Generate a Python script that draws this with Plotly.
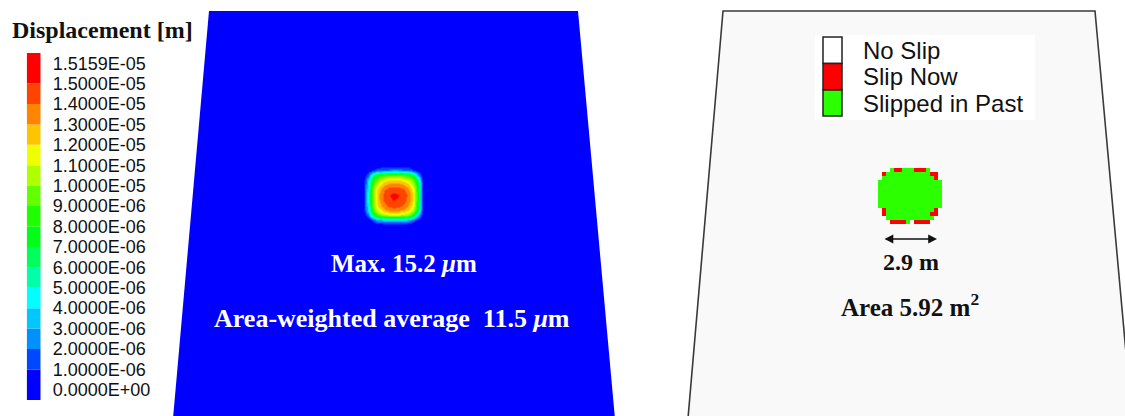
import plotly.graph_objects as go

# ---------------- data ----------------
# Displacement legend: band edges (micrometres), tick text and band colours, bottom to top
LEVELS_UM = [0, 1, 2, 3, 4, 5, 6, 7, 8, 9, 10, 11, 12, 13, 14, 15, 15.159]
LEVEL_LABELS = [
    "0.0000E+00", "1.0000E-06", "2.0000E-06", "3.0000E-06", "4.0000E-06",
    "5.0000E-06", "6.0000E-06", "7.0000E-06", "8.0000E-06", "9.0000E-06",
    "1.0000E-05", "1.1000E-05", "1.2000E-05", "1.3000E-05", "1.4000E-05",
    "1.5000E-05", "1.5159E-05",
]
BAND_COLORS = [
    "#0000ff", "#0048ff", "#0090ff", "#00c8ff", "#00ffff", "#00ffa8",
    "#00ff5a", "#00ff18", "#20ff00", "#62ff00", "#b0ff00", "#eeff00",
    "#ffc400", "#ff8400", "#ff4400", "#ff0000",
]

# Displacement field around the slip patch (micrometres), rows top to bottom
DISP_UM = [
    [0, 0.0, 0.0, 0.0, 0.0, 0.0, 0.0, 0.0, 0.0, 0.0, 0.0, 0.0, 0],
    [0, 0.2, 0.9, 1.9, 2.1, 2.2, 2.3, 2.3, 2.2, 2.1, 1.1, 0.3, 0],
    [0, 1.6, 6.0, 7.9, 8.7, 9.3, 9.4, 9.4, 9.1, 8.6, 7.0, 2.8, 0],
    [0, 3.6, 8.2, 10.2, 11.3, 11.9, 12.1, 12.1, 11.7, 11.0, 9.6, 6.3, 0],
    [0, 4.1, 9.3, 11.5, 12.7, 13.4, 13.6, 13.6, 13.2, 12.4, 10.8, 7.1, 0],
    [0, 4.4, 10.1, 12.4, 13.7, 14.6, 14.8, 14.7, 14.3, 13.5, 11.7, 7.7, 0],
    [0, 4.5, 10.3, 12.7, 14.1, 14.93, 15.159, 15.08, 14.6, 13.8, 12.0, 7.9, 0],
    [0, 4.5, 10.2, 12.6, 14.0, 14.8, 15.01, 14.93, 14.5, 13.7, 11.9, 7.8, 0],
    [0, 4.4, 9.9, 12.2, 13.5, 14.3, 14.6, 14.5, 14.0, 13.2, 11.5, 7.6, 0],
    [0, 4.0, 9.2, 11.3, 12.5, 13.3, 13.5, 13.4, 13.0, 12.3, 10.7, 7.0, 0],
    [0, 1.8, 7.0, 9.2, 10.2, 10.8, 10.9, 10.9, 10.5, 9.9, 8.2, 3.2, 0],
    [0, 0.3, 1.4, 3.1, 3.4, 3.6, 3.6, 3.6, 3.5, 3.3, 1.6, 0.5, 0],
    [0, 0.0, 0.0, 0.0, 0.0, 0.0, 0.0, 0.0, 0.0, 0.0, 0.0, 0.0, 0],
]

# Contact status per element: "." no slip, "R" slip now, "G" slipped in past
STATUS_ROWS = [
    "...GRRGGGRRRG...",
    ".RGGGGGGGGGGGRR.",
    ".GGGGGGGGGGGGGR.",
    "GGGGGGGGGGGGGGGG",
    "GGGGGGGGGGGGGGGG",
    "GGGGGGGGGGGGGGGG",
    "GGGGGGGGGGGGGGGG",
    "GGGGGGGGGGGGGGGG",
    "GGGGGGGGGGGGGGGG",
    "GGGGGGGGGGGGGGGG",
    ".RGGGGGGGGGGGGR.",
    ".RGGGGGGGGGGGRR.",
    "..GGGGGGGGGGGG..",
    "...RRRRG.RRRR...",
]
STATUS_NAMES = ["No Slip", "Slip Now", "Slipped in Past"]
STATUS_COLORS = ["#ffffff", "#ff0000", "#2bff00"]

MAX_DISP_UM = 15.2
AVG_DISP_UM = 11.5
PATCH_WIDTH_M = 2.9
PATCH_AREA_M2 = 5.92

# ---------------- layout constants (pixel frame) ----------------
W, H = 1125, 416
SERIF = "Liberation Serif"
SANS = "Liberation Sans"

# stepped colour scale built from the legend bands
zmax = LEVELS_UM[-1]
colorscale = []
for i, c in enumerate(BAND_COLORS):
    colorscale.append([LEVELS_UM[i] / zmax, c])
    colorscale.append([LEVELS_UM[i + 1] / zmax, c])

fig = go.Figure()

# displacement contour on the left fault face
fig.add_trace(go.Heatmap(
    z=DISP_UM, x0=363, dx=5, y0=165, dy=5,
    zmin=0, zmax=zmax, colorscale=colorscale, zsmooth="best",
    showscale=False, hoverinfo="skip",
))

# contact status on the right fault face
status_code = {".": None, "R": 1, "G": 2}
status_z = [[status_code[ch] for ch in row] for row in STATUS_ROWS]
fig.add_trace(go.Heatmap(
    z=status_z, x0=880, dx=4, y0=170, dy=4,
    zmin=0, zmax=2,
    colorscale=[[0, STATUS_COLORS[0]], [0.33, STATUS_COLORS[0]],
                [0.34, STATUS_COLORS[1]], [0.66, STATUS_COLORS[1]],
                [0.67, STATUS_COLORS[2]], [1, STATUS_COLORS[2]]],
    showscale=False, hoverinfo="skip",
))

# legend colour bar: one bar segment per band
idx = list(range(len(LEVELS_UM)))
bases, heights = [], []
for i in range(len(BAND_COLORS)):
    lo = idx[i] - (0.5 if i == 0 else 0)
    hi = idx[i + 1] + (0.5 if i == len(BAND_COLORS) - 1 else 0)
    bases.append(lo)
    heights.append(hi - lo)
fig.add_trace(go.Bar(
    x=[0] * len(BAND_COLORS), y=heights, base=bases, width=1,
    marker=dict(color=BAND_COLORS, line_width=0),
    xaxis="x2", yaxis="y2", hoverinfo="skip", showlegend=False,
))

shapes = [
    # left fault face (blue)
    dict(type="path", path="M 209 11 L 578 11 L 616 430 L 172 430 Z",
         fillcolor="#0000ff", line_width=0, layer="below"),
    # right fault face (light grey with outline)
    dict(type="path", path="M 723 11 L 1095 11 L 1133 430 L 687 430 Z",
         fillcolor="#f9f9f9", line=dict(color="#3a3a3a", width=1.6), layer="below"),
    # status legend box
    dict(type="rect", x0=815, x1=1035, y0=35, y1=120,
         fillcolor="#ffffff", line_width=0),
]
sw_top = [37, 63.5, 90]
sw_bot = [63.5, 90, 116]
for name, col, t, b in zip(STATUS_NAMES, STATUS_COLORS, sw_top, sw_bot):
    shapes.append(dict(type="rect", x0=823, x1=842, y0=t, y1=b,
                       fillcolor=col, line=dict(color="#222222", width=1.5)))

annotations = [
    dict(x=10, y=30, text="<b>Displacement [m]</b>", showarrow=False,
         xanchor="left", yanchor="middle", font=dict(family=SERIF, size=24, color="#111111")),
    dict(x=404, y=263, text=f"<b>Max. {MAX_DISP_UM} <i>μ</i>m</b>", showarrow=False,
         xanchor="center", yanchor="middle", font=dict(family=SERIF, size=25, color="#ffffff")),
    dict(x=392, y=318, text=f"<b>Area-weighted average\u00a0\u00a0{AVG_DISP_UM} <i>μ</i>m</b>",
         showarrow=False, xanchor="center", yanchor="middle",
         font=dict(family=SERIF, size=26, color="#ffffff")),
    dict(x=937, y=239, ax=883, ay=239, axref="x", ayref="y", text="",
         showarrow=True, arrowside="end+start", arrowhead=2, arrowsize=1.1,
         arrowwidth=1.6, arrowcolor="#111111", standoff=0, startstandoff=0),
    dict(x=911, y=262, text=f"<b>{PATCH_WIDTH_M} m</b>", showarrow=False,
         xanchor="center", yanchor="middle", font=dict(family=SERIF, size=24, color="#111111")),
    dict(x=910, y=305, text=f"<b>Area {PATCH_AREA_M2} m<sup>2</sup></b>", showarrow=False,
         xanchor="center", yanchor="middle", font=dict(family=SERIF, size=25, color="#111111")),
]
for name, t, b in zip(STATUS_NAMES, sw_top, sw_bot):
    annotations.append(dict(x=861, y=(t + b) / 2, text=name, showarrow=False,
                            xanchor="left", yanchor="middle",
                            font=dict(family=SANS, size=24, color="#111111")))

fig.update_layout(
    width=W, height=H,
    margin=dict(l=0, r=0, t=0, b=0),
    paper_bgcolor="#ffffff", plot_bgcolor="#ffffff",
    showlegend=False,
    xaxis=dict(range=[0, W], visible=False, domain=[0, 1]),
    yaxis=dict(range=[H, 0], visible=False, domain=[0, 1]),
    xaxis2=dict(range=[-0.5, 0.5], visible=False,
                domain=[26.7 / W, 40.7 / W], anchor="y2"),
    yaxis2=dict(range=[-0.5, len(LEVELS_UM) - 0.5], anchor="x2", side="right",
                domain=[1 - 400 / H, 1 - 53 / H],
                tickvals=idx, ticktext=LEVEL_LABELS, ticks="",
                showgrid=False, zeroline=False, showline=False,
                ticklabelstandoff=11,
                tickfont=dict(family=SANS, size=18, color="#111111")),
    shapes=shapes,
    annotations=annotations,
    barmode="overlay",
)

fig.write_html("out.html")
